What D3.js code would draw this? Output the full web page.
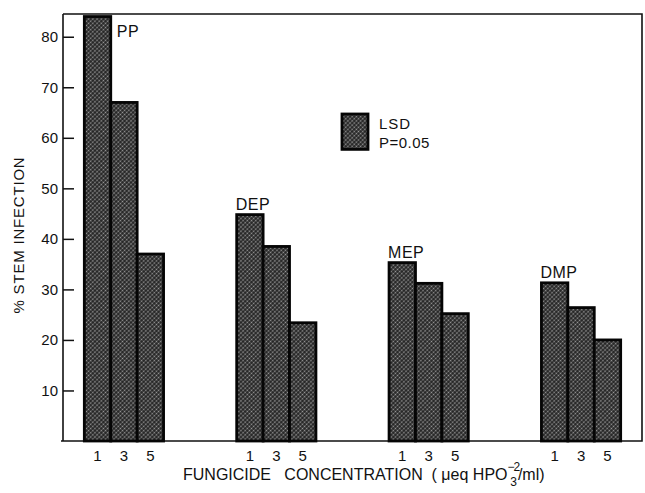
<!DOCTYPE html>
<html>
<head>
<meta charset="utf-8">
<script src="https://cdn.jsdelivr.net/npm/d3@7"></script>
<style>
  body { margin: 0; background: #fff; }
  text { font-family: "Liberation Sans", Arial, sans-serif; fill: #111; }
</style>
</head>
<body>
<div id="chart_area"></div>
<script>

// data
var groups = ["PP", "DEP", "MEP", "DMP"];
var concentrations = ["1", "3", "5"];
var infection_pp  = [84, 67, 37];
var infection_dep = [44.8, 38.5, 23.4];
var infection_mep = [35.3, 31.2, 25.2];
var infection_dmp = [31.3, 26.4, 20.0];
var y_ticks = [10, 20, 30, 40, 50, 60, 70, 80];
var lsd_value = 7;

var series = [infection_pp, infection_dep, infection_mep, infection_dmp];

var frame_width = 645;
var frame_height = 493;

var frame = d3.select("#chart_area").append("svg")
  .attr("width", frame_width)
  .attr("height", frame_height);

// dotted fill like the printed bars (rotated so it reads as stipple, not grid)
var defs = frame.append("defs");
var pat = defs.append("pattern")
  .attr("id", "stipple")
  .attr("patternUnits", "userSpaceOnUse")
  .attr("patternTransform", "rotate(45)")
  .attr("width", 3).attr("height", 3);
pat.append("rect").attr("width", 3).attr("height", 3).attr("fill", "#202020");
pat.append("circle").attr("cx", 1.5).attr("cy", 1.5).attr("r", 0.9).attr("fill", "#9a9a9a");

var plot_left = 63, plot_right = 642, plot_top = 14, plot_bottom = 441;

var yScale = d3.scaleLinear()
  .domain([0, 84.5])
  .range([plot_bottom, plot_top]);

var xGroup = d3.scaleBand()
  .domain(groups)
  .range([plot_left, plot_right])
  .paddingInner(0.48)
  .paddingOuter(0.14);

var xConc = d3.scaleBand()
  .domain(concentrations)
  .range([0, xGroup.bandwidth()]);

// frame lines (top, right, bottom)
frame.append("path")
  .attr("d", "M" + plot_left + "," + plot_top + "H" + plot_right + "V" + plot_bottom + "H" + (plot_left - 2))
  .attr("fill", "none")
  .attr("stroke", "#111")
  .attr("stroke-width", 1.6);

// y axis, ticks pointing inward
var yAxis = d3.axisLeft(yScale)
  .tickValues(y_ticks)
  .tickSizeInner(-11)
  .tickSizeOuter(0)
  .tickPadding(5);

var yg = frame.append("g")
  .attr("transform", "translate(" + plot_left + ",0)")
  .call(yAxis);
yg.select(".domain").attr("stroke", "#111").attr("stroke-width", 1.6)
  .attr("d", "M0," + plot_top + "V" + plot_bottom);
yg.selectAll(".tick line").attr("stroke", "#111").attr("stroke-width", 1.5);
yg.selectAll(".tick text")
  .style("font-family", "Liberation Sans, Arial, sans-serif")
  .style("font-size", "15px")
  .attr("fill", "#111");

// bars
groups.forEach(function (g, gi) {
  var gx = xGroup(g);
  var gEl = frame.append("g").attr("transform", "translate(" + gx + ",0)");

  gEl.selectAll("rect")
    .data(series[gi])
    .enter().append("rect")
    .attr("x", function (d, i) { return xConc(concentrations[i]); })
    .attr("y", function (d) { return yScale(d); })
    .attr("width", xConc.bandwidth())
    .attr("height", function (d) { return yScale(0) - yScale(d); })
    .attr("fill", "url(#stipple)")
    .attr("stroke", "#050505")
    .attr("stroke-width", 2.8);

  // concentration labels under each group
  var xa = d3.axisBottom(xConc).tickSize(0).tickPadding(9);
  var xg = gEl.append("g")
    .attr("transform", "translate(0," + plot_bottom + ")")
    .call(xa);
  xg.select(".domain").remove();
  xg.selectAll(".tick text")
    .style("font-family", "Liberation Sans, Arial, sans-serif")
    .style("font-size", "15px")
    .attr("fill", "#111");

  // group name
  var first = series[gi][0];
  var lab = gEl.append("text")
    .style("font-size", "16px")
    .style("letter-spacing", "0.5px")
    .text(g);
  if (g === "PP") {
    lab.attr("x", xConc.bandwidth() + 6).attr("y", yScale(first) + 20);
  } else {
    lab.attr("x", -1).attr("y", yScale(first) - 5);
  }
});

// legend: LSD box drawn at its value's height
frame.append("rect")
  .attr("x", 342)
  .attr("y", 114)
  .attr("width", 26)
  .attr("height", yScale(0) - yScale(lsd_value))
  .attr("fill", "url(#stipple)")
  .attr("stroke", "#050505")
  .attr("stroke-width", 2.8);
frame.append("text").attr("x", 379).attr("y", 129).style("font-size", "15px").style("letter-spacing", "1px").text("LSD");
frame.append("text").attr("x", 379).attr("y", 148).style("font-size", "15px").style("letter-spacing", "0.5px").text("P=0.05");

// y title
frame.append("text")
  .attr("transform", "translate(24,235) rotate(-90)")
  .attr("text-anchor", "middle")
  .style("font-size", "15px")
  .style("letter-spacing", "0.8px")
  .text("% STEM  INFECTION");

// x title
var xt = frame.append("text")
  .attr("x", 183)
  .attr("y", 480)
  .style("font-size", "16px")
  .attr("xml:space", "preserve");
xt.append("tspan").text("FUNGICIDE   CONCENTRATION  ( \u03bceq HPO");
xt.append("tspan").attr("dy", -9).style("font-size", "12px").text("\u2212");
xt.append("tspan").attr("dx", -1).style("font-size", "12px").text("2");
xt.append("tspan").attr("dx", -10).attr("dy", 15).style("font-size", "12px").text("3");
xt.append("tspan").attr("dx", 1).attr("dy", -6).text("/ml)");

</script>
</body>
</html>
